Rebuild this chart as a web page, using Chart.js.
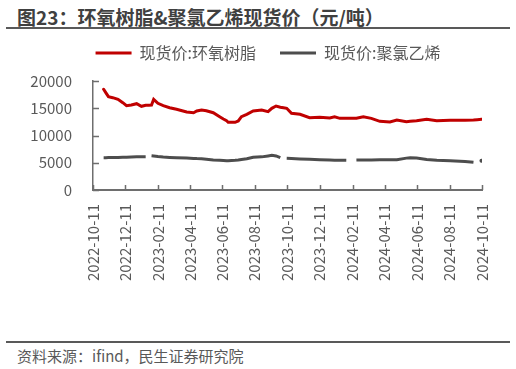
<!DOCTYPE html>
<html>
<head>
<meta charset="utf-8">
<script src="https://cdn.jsdelivr.net/npm/chart.js@4/dist/chart.umd.min.js"></script>
<style>
  body { margin: 0; background: #fff; }
  #wrap { position: relative; width: 516px; height: 369px; overflow: hidden; font-family: "Noto Sans CJK SC", "Noto Sans", sans-serif; }
  #title { position: absolute; left: 17px; top: 3px; font-size: 19px; font-weight: bold; color: #404040; white-space: nowrap; }
  .rule { position: absolute; left: 6px; width: 504px; height: 2px; background: #595959; }
  #source { position: absolute; left: 17px; top: 345px; font-size: 15px; color: #595959; white-space: nowrap; }
  canvas { position: absolute; left: 0; top: 0; }
</style>
</head>
<body>
<div id="wrap">
  <div id="title">图23：环氧树脂&amp;聚氯乙烯现货价（元/吨）</div>
  <div class="rule" style="top:27px"></div>
  <div class="rule" style="top:341px"></div>
  <div id="source">资料来源：ifind，民生证券研究院</div>
  <canvas id="chart" width="516" height="369"></canvas>
</div>
<script>
// tick labels on the x axis
const tickDates = ['2022-10-11', '2022-12-11', '2023-02-11', '2023-04-11', '2023-06-11', '2023-08-11',
  '2023-10-11', '2023-12-11', '2024-02-11', '2024-04-11', '2024-06-11', '2024-08-11', '2024-10-11'];

// sample dates
const dates = ['2022-10-31', '2022-11-04', '2022-11-09', '2022-11-17', '2022-11-27', '2022-12-06',
  '2022-12-13', '2022-12-22', '2023-01-01', '2023-01-10', '2023-01-18', '2023-01-24', '2023-01-29',
  '2023-02-02', '2023-02-10', '2023-02-20', '2023-03-04', '2023-03-17', '2023-04-05', '2023-04-18',
  '2023-04-24', '2023-05-03', '2023-05-12', '2023-05-25', '2023-06-06', '2023-06-13', '2023-06-19',
  '2023-06-22', '2023-07-05', '2023-07-11', '2023-07-17', '2023-07-27', '2023-08-08', '2023-08-24',
  '2023-09-05', '2023-09-12', '2023-09-20', '2023-09-28', '2023-10-04', '2023-10-10', '2023-10-19',
  '2023-11-04', '2023-11-22', '2023-12-11', '2023-12-30', '2024-01-08', '2024-01-18', '2024-01-30',
  '2024-02-09', '2024-02-18', '2024-03-02', '2024-03-17', '2024-04-02', '2024-04-21', '2024-05-04',
  '2024-05-22', '2024-05-29', '2024-06-10', '2024-06-29', '2024-07-18', '2024-08-12', '2024-09-09',
  '2024-09-25', '2024-10-02', '2024-10-10'];

// 现货价:环氧树脂
const epoxy = [18480, 17860, 17120, 16940, 16640, 16020,
  15470, 15600, 15840, 15360, 15540, 15550, 15600,
  16640, 15900, 15470, 15100, 14810, 14310, 14180,
  14500, 14680, 14550, 14180, 13450, 13030, 12700,
  12420, 12420, 12660, 13450, 13890, 14500, 14680,
  14370, 14990, 15410, 15200, 15100, 14990, 14070,
  13890, 13270, 13330, 13210, 13450, 13150, 13150,
  13150, 13150, 13450, 13150, 12600, 12480, 12840,
  12530, 12600, 12720, 12970, 12720, 12790, 12800,
  12850, 12900, 12970];

// 现货价:聚氯乙烯 (null = no quote)
const pvc = [5930, 5930, 5950, 5950, 5980, 6000,
  6000, 6050, 6080, 6100, 6110, null, 6290,
  6250, 6150, 6050, 5980, 5920, 5850, 5800,
  5760, 5720, 5650, 5500, 5450, 5420, 5380,
  5380, 5440, 5500, 5600, 5720, 6000, 6080,
  6250, 6360, 6250, 5930, null, 5810, 5780,
  5700, 5620, 5560, 5500, 5480, 5460, 5440,
  null, 5500, 5520, 5520, 5540, 5550, 5560,
  5850, 5930, 5850, 5600, 5450, 5380, 5250,
  5080, null, 5380];

const yTicks = [0, 5000, 10000, 15000, 20000];

const dayOf = s => (Date.parse(s) - Date.parse(tickDates[0])) / 86400000;
const toPoints = vals => dates.map((d, i) => ({ x: dayOf(d), y: vals[i] }));

const RED = '#c00000';
const GREY = '#4d4d4d';
const AXIS = '#6e6e6e';
const TEXT = '#595959';

// legend: extra room below it, and nudged to the right
const legendTweak = {
  id: 'legendTweak',
  beforeInit(chart) {
    const lg = chart.legend;
    const fit = lg.fit, draw = lg.draw;
    lg.fit = function () {
      fit.call(lg);
      this.height += 10;
    };
    lg.draw = function () {
      const ctx = chart.ctx;
      ctx.save();
      ctx.translate(27, 0);
      draw.call(lg);
      ctx.restore();
    };
  }
};

// short tick marks pointing into the plot
const innerTicks = {
  id: 'innerTicks',
  afterDraw(chart) {
    const ctx = chart.ctx;
    const x = chart.scales.x, y = chart.scales.y;
    ctx.save();
    ctx.strokeStyle = AXIS;
    ctx.lineWidth = 1.5;
    ctx.beginPath();
    yTicks.forEach(v => {
      const py = Math.round(y.getPixelForValue(v)) + 0.5;
      ctx.moveTo(x.left, py);
      ctx.lineTo(x.left + 6, py);
    });
    tickDates.forEach(d => {
      const px = Math.round(x.getPixelForValue(dayOf(d))) + 0.5;
      ctx.moveTo(px, y.bottom);
      ctx.lineTo(px, y.bottom - 5);
    });
    ctx.stroke();
    ctx.restore();
  }
};

const isolated = ctx => {
  const i = ctx.dataIndex;
  return pvc[i] != null && pvc[i - 1] == null && pvc[i + 1] == null ? 2 : 0;
};

new Chart(document.getElementById('chart'), {
  type: 'line',
  data: {
    datasets: [{
      label: '现货价:环氧树脂',
      data: toPoints(epoxy),
      borderColor: RED,
      backgroundColor: RED,
      borderWidth: 3,
      pointRadius: 0,
      borderCapStyle: 'round',
      tension: 0
    }, {
      label: '现货价:聚氯乙烯',
      data: toPoints(pvc),
      borderColor: GREY,
      backgroundColor: GREY,
      borderWidth: 3,
      pointRadius: isolated,
      pointBorderWidth: 0,
      spanGaps: false,
      tension: 0
    }]
  },
  options: {
    responsive: false,
    animation: false,
    layout: { padding: { top: 21, right: 34, bottom: 34, left: 0 } },
    plugins: {
      tooltip: { enabled: false },
      legend: {
        labels: {
          boxWidth: 36,
          boxHeight: 3,
          padding: 24,
          color: TEXT,
          font: { size: 16, family: '"Noto Sans CJK SC", sans-serif' },
          generateLabels: chart => Chart.defaults.plugins.legend.labels.generateLabels(chart)
            .map(l => ({ ...l, lineWidth: 0 }))
        }
      }
    },
    scales: {
      x: {
        type: 'linear',
        min: 0,
        max: dayOf(tickDates[tickDates.length - 1]),
        afterFit: s => { s.height = 145; },
        afterBuildTicks: s => { s.ticks = tickDates.map(d => ({ value: dayOf(d) })); },
        grid: { display: false, drawTicks: false },
        border: { color: AXIS, width: 2 },
        ticks: {
          minRotation: 90,
          maxRotation: 90,
          autoSkip: false,
          padding: 14,
          color: TEXT,
          font: { size: 15, family: '"Noto Sans CJK SC", sans-serif' },
          callback: (v, i) => tickDates[i]
        }
      },
      y: {
        min: 0,
        max: 20000,
        afterFit: s => { s.width = 93; },
        afterBuildTicks: s => { s.ticks = yTicks.map(v => ({ value: v })); },
        grid: { display: false, drawTicks: false },
        border: { color: AXIS, width: 1.5 },
        ticks: {
          padding: 21,
          color: TEXT,
          font: { size: 15, family: '"Noto Sans CJK SC", sans-serif' },
          callback: v => String(v)
        }
      }
    }
  },
  plugins: [legendTweak, innerTicks]
});
</script>
</body>
</html>
